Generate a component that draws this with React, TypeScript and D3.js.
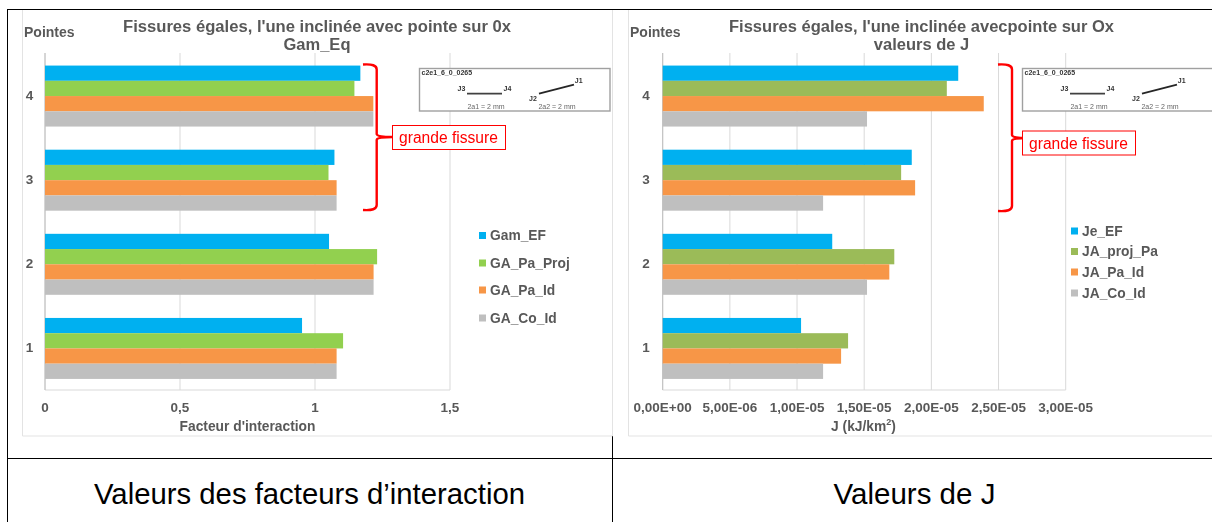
import React from "react";
import * as d3 from "d3";

const pointes = ["4", "3", "2", "1"];

const gamSeries = ["Gam_EF", "GA_Pa_Proj", "GA_Pa_Id", "GA_Co_Id"];
const gamEF = [1.168, 1.072, 1.052, 0.952];
const gaPaProj = [1.146, 1.05, 1.23, 1.104];
const gaPaId = [1.216, 1.08, 1.217, 1.08];
const gaCoId = [1.216, 1.08, 1.217, 1.08];
const gamTicks = [0, 0.5, 1, 1.5];
const gamTickLabels = ["0", "0,5", "1", "1,5"];

const jSeries = ["Je_EF", "JA_proj_Pa", "JA_Pa_Id", "JA_Co_Id"];
const jeEF = [2.2e-5, 1.854e-5, 1.262e-5, 1.03e-5];
const jaProjPa = [2.115e-5, 1.775e-5, 1.724e-5, 1.38e-5];
const jaPaId = [2.39e-5, 1.879e-5, 1.687e-5, 1.328e-5];
const jaCoId = [1.521e-5, 1.194e-5, 1.521e-5, 1.194e-5];
const jTicks = [0, 5e-6, 1e-5, 1.5e-5, 2e-5, 2.5e-5, 3e-5];
const jTickLabels = ["0,00E+00", "5,00E-06", "1,00E-05", "1,50E-05", "2,00E-05", "2,50E-05", "3,00E-05"];

const FONT = "'Liberation Sans', Arial, sans-serif";
const GREY = "#595959";
const GRID = "#d9d9d9";
const RED = "#ff0000";

function Inset({ dx }: { dx: number }) {
  const small = { fontFamily: FONT, fontSize: 7, fill: "#333", textAnchor: "middle" as const, dominantBaseline: "middle" as const };
  return (
    <g transform={`translate(${dx},0)`}>
      <rect x={419.5} y={68.5} width={190.5} height={42.5} fill="#fff" stroke="#a0a0a0" strokeWidth={1.4} />
      <text x={421.5} y={73.5} fontFamily={FONT} fontSize={7} fontWeight={700} fill="#333" dominantBaseline="middle">c2e1_6_0_0265</text>
      <line x1={467} y1={93.7} x2={502} y2={93.7} stroke="#404040" strokeWidth={1.8} />
      <line x1={539} y1={93.7} x2={574} y2={84.7} stroke="#262626" strokeWidth={1.8} />
      <text {...small} x={461.5} y={89.5} fontWeight={700}>J3</text>
      <text {...small} x={507.5} y={89.5} fontWeight={700}>J4</text>
      <text {...small} x={533} y={99.2} fontWeight={700}>J2</text>
      <text {...small} x={578.7} y={81.2} fontWeight={700}>J1</text>
      <text {...small} x={486} y={107} fill="#666">2a1 = 2 mm</text>
      <text {...small} x={557} y={107} fill="#666">2a2 = 2 mm</text>
    </g>
  );
}

function Bracket({ x0, xv, nub, yTop, yMid, yBot }: { x0: number; xv: number; nub: number; yTop: number; yMid: number; yBot: number }) {
  const path = d3.path();
  path.moveTo(x0, yTop);
  path.quadraticCurveTo(xv, yTop - 1, xv, yTop + 5);
  path.lineTo(xv, yMid - 3);
  path.quadraticCurveTo(xv, yMid, nub, yMid);
  path.quadraticCurveTo(xv, yMid, xv, yMid + 3);
  path.lineTo(xv, yBot - 5);
  path.quadraticCurveTo(xv, yBot + 1, x0, yBot);
  return <path d={path.toString()} fill="none" stroke={RED} strokeWidth={2.4} />;
}

type PanelProps = {
  x0: number;
  x1: number;
  domainMax: number;
  ticks: number[];
  tickLabels: string[];
  series: string[];
  values: number[][];
  colors: string[];
  catX: number;
  title: string[];
  titleX: number;
  titleWidth: number;
  pointesX: number;
  legendX: number;
  legendYs: number[];
  xLabel: React.ReactNode;
  xLabelX: number;
};

function Panel(p: PanelProps) {
  const x = d3.scaleLinear().domain([0, p.domainMax]).range([p.x0, p.x1]);
  const y = d3.scaleBand().domain(pointes).range([54, 390.5]).paddingInner(0.275).paddingOuter(0.1375);
  const inner = d3.scaleBand().domain(p.series).range([0, y.bandwidth()]);
  const bold = { fontFamily: FONT, fontWeight: 700, fill: GREY };
  return (
    <g>
      {p.ticks.map((t) => (
        <line key={t} x1={x(t)} x2={x(t)} y1={53} y2={390} stroke={GRID} strokeWidth={1} />
      ))}
      <line x1={p.x0} x2={p.x1} y1={390} y2={390} stroke={GRID} strokeWidth={1} />
      <line x1={p.x0} x2={p.x0} y1={53} y2={390} stroke="#bfbfbf" strokeWidth={1} />
      {pointes.map((c, ci) => (
        <g key={c}>
          {p.series.map((s, si) => (
            <rect
              key={s}
              x={x(0)}
              y={(y(c) as number) + (inner(s) as number)}
              width={x(p.values[si][ci]) - x(0)}
              height={inner.bandwidth()}
              fill={p.colors[si]}
            />
          ))}
          <text {...bold} x={p.catX} y={(y(c) as number) + y.bandwidth() / 2} fontSize={13.5} textAnchor="middle" dominantBaseline="middle">{c}</text>
        </g>
      ))}
      {p.ticks.map((t, i) => (
        <text key={t} {...bold} x={x(t)} y={408} fontSize={13.5} textAnchor="middle" dominantBaseline="middle">{p.tickLabels[i]}</text>
      ))}
      <text {...bold} x={p.titleX} y={27.5} fontSize={16} textAnchor="middle" dominantBaseline="middle" textLength={p.titleWidth} lengthAdjust="spacingAndGlyphs">{p.title[0]}</text>
      <text {...bold} x={p.titleX} y={46} fontSize={16.5} textAnchor="middle" dominantBaseline="middle">{p.title[1]}</text>
      <text {...bold} x={p.pointesX} y={33} fontSize={14} dominantBaseline="middle">Pointes</text>
      <text {...bold} x={p.xLabelX} y={427} fontSize={13.8} textAnchor="middle" dominantBaseline="middle">{p.xLabel}</text>
      {p.series.map((s, i) => (
        <g key={s}>
          <rect x={p.legendX} y={p.legendYs[i] - 3.5} width={7} height={7} fill={p.colors[i]} />
          <text {...bold} x={p.legendX + 11} y={p.legendYs[i] + 1} fontSize={13.8} dominantBaseline="middle">{s}</text>
        </g>
      ))}
    </g>
  );
}

export default function App() {
  return (
    <svg
      width={1212}
      height={522}
      style={{ position: "absolute", left: 0, top: 0, background: "#fff" }}
    >
      <defs>
        <filter id="soft" x="0" y="0" width="1212" height="522" filterUnits="userSpaceOnUse">
          <feGaussianBlur stdDeviation={0.35} />
        </filter>
      </defs>
      {/* table frame */}
      <line x1={7.5} y1={9.5} x2={1212} y2={9.5} stroke="#000" strokeWidth={1} />
      <line x1={7.5} y1={9} x2={7.5} y2={522} stroke="#000" strokeWidth={1} />
      <line x1={7} y1={458.5} x2={1212} y2={458.5} stroke="#000" strokeWidth={1} />
      <line x1={612.5} y1={436} x2={612.5} y2={522} stroke="#000" strokeWidth={1} />
      {/* panel edges */}
      <path d="M22.5,10 V436 H612.5 V10" fill="none" stroke="#e3e3e3" strokeWidth={1} />
      <path d="M628.5,10 V436 H1212" fill="none" stroke="#e3e3e3" strokeWidth={1} />

      <g filter="url(#soft)">
        <Panel
          x0={45}
          x1={450}
          domainMax={1.5}
          ticks={gamTicks}
          tickLabels={gamTickLabels}
          series={gamSeries}
          values={[gamEF, gaPaProj, gaPaId, gaCoId]}
          colors={["#00B0F0", "#92D050", "#F79646", "#BFBFBF"]}
          catX={29.5}
          title={["Fissures égales, l'une inclinée avec pointe sur 0x", "Gam_Eq"]}
          titleX={317}
          titleWidth={388}
          pointesX={24}
          legendX={479}
          legendYs={[235.5, 263, 290, 318]}
          xLabel="Facteur d'interaction"
          xLabelX={247.5}
        />
        <Panel
          x0={662.7}
          x1={1065.7}
          domainMax={3e-5}
          ticks={jTicks}
          tickLabels={jTickLabels}
          series={jSeries}
          values={[jeEF, jaProjPa, jaPaId, jaCoId]}
          colors={["#00B0F0", "#9BBB59", "#F79646", "#BFBFBF"]}
          catX={646}
          title={["Fissures égales, l'une inclinée avecpointe sur Ox", "valeurs de J"]}
          titleX={921.5}
          titleWidth={385}
          pointesX={630}
          legendX={1071}
          legendYs={[231, 251.5, 272, 293]}
          xLabel={<>J (kJ/km<tspan fontSize={9} dy={-4}>2</tspan><tspan dy={4}>)</tspan></>}
          xLabelX={863.5}
        />

        <Inset dx={0} />
        <Inset dx={603} />

        <Bracket x0={363} xv={376.7} nub={392} yTop={64.5} yMid={137} yBot={210} />
        <rect x={392.5} y={125.5} width={113} height={24} fill="#fff" stroke={RED} strokeWidth={1} />
        <text x={448.5} y={139} fontFamily={FONT} fontSize={15.6} fill={RED} textAnchor="middle" dominantBaseline="middle">grande fissure</text>

        <Bracket x0={998} xv={1012} nub={1026} yTop={64.5} yMid={138} yBot={211} />
        <rect x={1022.5} y={131} width={113} height={24} fill="#fff" stroke={RED} strokeWidth={1} />
        <text x={1078.5} y={144.5} fontFamily={FONT} fontSize={15.6} fill={RED} textAnchor="middle" dominantBaseline="middle">grande fissure</text>
      </g>

      <text x={309.5} y={496} fontFamily={FONT} fontSize={29.5} fill="#000" textAnchor="middle" dominantBaseline="middle" textLength={431} lengthAdjust="spacingAndGlyphs">Valeurs des facteurs d’interaction</text>
      <text x={914.5} y={496} fontFamily={FONT} fontSize={29.5} fill="#000" textAnchor="middle" dominantBaseline="middle">Valeurs de J</text>
    </svg>
  );
}
